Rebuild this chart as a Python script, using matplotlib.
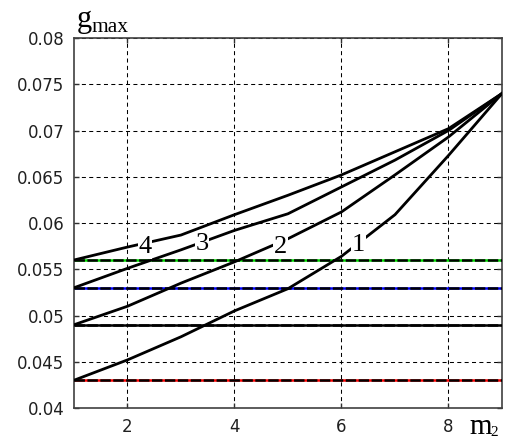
import numpy as np
import matplotlib
matplotlib.use("Agg")
import matplotlib.pyplot as plt

# m2 values and g_max curves
m2 = [1, 2, 3, 4, 5, 6, 7, 8, 9]
g1 = [0.0430, 0.0452, 0.0477, 0.0505, 0.0529, 0.0564, 0.0609, 0.0673, 0.0740]
g2 = [0.0490, 0.0510, 0.0535, 0.0558, 0.0583, 0.0612, 0.0652, 0.0693, 0.0740]
g3 = [0.0530, 0.0551, 0.0571, 0.0592, 0.0610, 0.0639, 0.0668, 0.0700, 0.0740]
g4 = [0.0560, 0.0574, 0.0587, 0.0609, 0.0630, 0.0652, 0.0677, 0.0702, 0.0740]
curves = [g1, g2, g3, g4]
curve_labels = ["1", "2", "3", "4"]
label_pos = [(6.32, 0.0576), (4.86, 0.0574), (3.40, 0.0577), (2.32, 0.0574)]

# horizontal reference levels (start values of each curve)
levels = [0.056, 0.053, 0.049, 0.043]
level_colors = ["#00dd00", "#0000ff", "#000000", "#ff0000"]

xticks = [2, 4, 6, 8]
yticks = [0.04, 0.045, 0.05, 0.055, 0.06, 0.065, 0.07, 0.075, 0.08]

plt.rcParams["lines.scale_dashes"] = False
fig = plt.figure(figsize=(5.05, 4.41), dpi=100)
ax = fig.add_axes([0.1465, 0.0748, 0.8475, 0.839])

for lv, c in zip(levels, level_colors):
    ax.plot([1, 9], [lv, lv], color=c, lw=1.8, zorder=2)
    ax.plot([1, 9], [lv, lv], color="black", lw=1.8, dashes=(7.5, 1.8), zorder=3)

for g in curves:
    ax.plot(m2, g, color="black", lw=2.0, zorder=4)

for lab, (x, y) in zip(curve_labels, label_pos):
    ax.text(x, y, lab, fontsize=19, family="Liberation Serif", ha="center", va="center",
            zorder=5, bbox=dict(facecolor="white", edgecolor="none", pad=0.3))

ax.set_xlim(1, 9)
ax.set_ylim(0.04, 0.08)
ax.set_xticks(xticks)
ax.set_yticks(yticks)
ax.set_yticklabels(["0.04", "0.045", "0.05", "0.055", "0.06", "0.065", "0.07", "0.075", "0.08"])
ax.grid(True, color="black", lw=0.75, dashes=(2.9, 2.4))
ax.tick_params(direction="in", length=3.6, width=1, top=True, right=True,
               labelsize=12, colors="#303030", pad=7)
for lbl in ax.get_xticklabels() + ax.get_yticklabels():
    lbl.set_color("#202020")
for s in ax.spines.values():
    s.set_linewidth(1.2)
    s.set_color("#404040")

# axis captions placed like the original
fig.text(77 / 505, 1 - 26.5 / 441, "g", fontsize=22, family="Liberation Serif", va="baseline")
fig.text(92 / 505, 1 - 32 / 441, "max", fontsize=15.5, family="Liberation Serif", va="baseline")
fig.text(469 / 505, 1 - 434 / 441, "m", fontsize=21, family="Liberation Serif", va="baseline")
fig.text(490 / 505, 1 - 436 / 441, "2", fontsize=11, family="Liberation Serif", va="baseline")

fig.savefig("out.png", dpi=100)
